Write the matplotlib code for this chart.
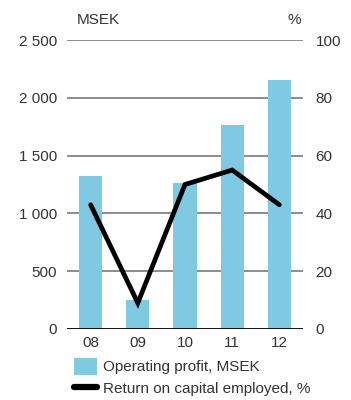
import matplotlib.pyplot as plt
from matplotlib.lines import Line2D
from matplotlib.patches import Patch

plt.rcParams["font.family"] = ["Liberation Sans", "DejaVu Sans"]

# ── Data ──────────────────────────────────────
years = ["08", "09", "10", "11", "12"]
operating_profit = [1320, 250, 1265, 1765, 2155]   # MSEK
roce = [43, 9, 50, 55, 43]                           # %

left_ticks = [0, 500, 1000, 1500, 2000, 2500]
left_labels = ["0", "500", "1 000", "1 500", "2 000", "2 500"]
right_ticks = [0, 20, 40, 60, 80, 100]

BAR_COLOR = "#80c9e2"
GRID_COLOR = "#6e6e6e"
TEXT_COLOR = "#333333"
FS = 11

fig = plt.figure(figsize=(3.51, 4.0), dpi=100)
ax = fig.add_axes([0.191, 0.1775, 0.672, 0.7225])
ax2 = ax.twinx()

x = range(len(years))
ax.bar(x, operating_profit, width=0.49, color=BAR_COLOR, zorder=2)
ax.set_xlim(-0.5, len(years) - 0.5)
ax.set_ylim(0, 2500)
ax.set_yticks(left_ticks)
ax.set_yticklabels(left_labels)
ax.set_xticks(list(x))
ax.set_xticklabels(years)

for t in left_ticks[1:]:
    ax.axhline(t, color=GRID_COLOR, lw=1.1, zorder=1)
ax.axhline(0, color="black", lw=1.3, zorder=3)

ax2.plot(list(x), roce, color="black", lw=3.4, solid_capstyle="round",
         solid_joinstyle="miter", zorder=4)
ax2.set_ylim(0, 100)
ax2.set_yticks(right_ticks)

for a in (ax, ax2):
    for s in a.spines.values():
        s.set_visible(False)
    a.tick_params(length=0, labelsize=FS, colors=TEXT_COLOR)
ax.tick_params(axis="y", pad=7)
ax2.tick_params(axis="y", pad=9)
ax.tick_params(axis="x", pad=5)

fig.text(0.218, 0.95, "MSEK", fontsize=FS, color=TEXT_COLOR, va="center")
fig.text(0.818, 0.95, "%", fontsize=FS, color=TEXT_COLOR, va="center")

handles = [Patch(facecolor=BAR_COLOR, edgecolor="none"),
           Line2D([0], [0], color="black", lw=4.5, solid_capstyle="round")]
fig.legend(handles, ["Operating profit, MSEK", "Return on capital employed, %"],
           loc="upper left", bbox_to_anchor=(0.212, 0.105), frameon=False,
           fontsize=FS, labelcolor=TEXT_COLOR, handlelength=1.45,
           handleheight=1.3, handletextpad=0.4, labelspacing=0.35,
           borderaxespad=0, borderpad=0)

fig.savefig("out.png", dpi=100)
